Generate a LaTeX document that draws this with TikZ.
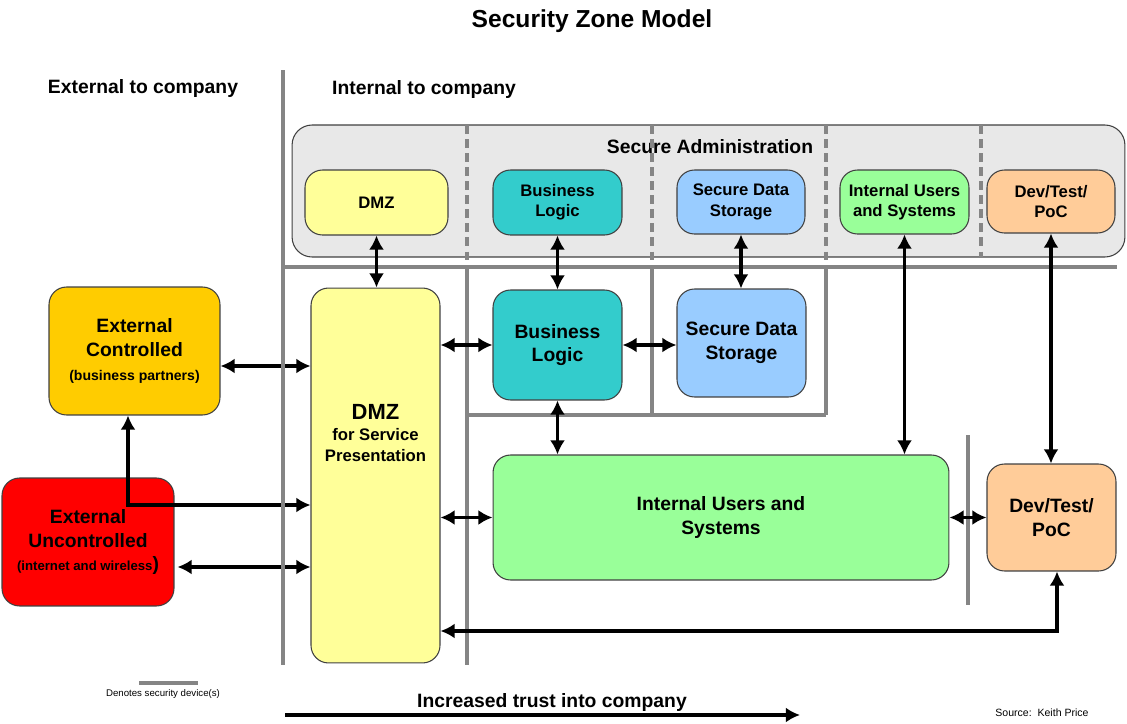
\documentclass[tikz,border=0pt]{standalone}
\usepackage{fontspec}
\setmainfont{Liberation Sans}
\usetikzlibrary{calc,arrows.meta}
\definecolor{zonegold}{HTML}{FFCC00}
\definecolor{zonered}{HTML}{FF0000}
\definecolor{zoneyellow}{HTML}{FFFF99}
\definecolor{zoneteal}{HTML}{33CCCC}
\definecolor{zoneblue}{HTML}{99CCFF}
\definecolor{zonegreen}{HTML}{99FF99}
\definecolor{zonepeach}{HTML}{FFCC99}
\definecolor{admingray}{HTML}{E8E8E8}
\definecolor{devicegray}{HTML}{858585}
\begin{document}
\begin{tikzpicture}[x=0.02cm,y=-0.02cm,
	zone/.style={draw=black!75,line width=0.6pt,rounded corners=0.35cm,align=center,inner sep=2pt},
	bigfont/.style={font=\bfseries\fontsize{11}{13.5}\selectfont},
	smallfont/.style={font=\bfseries\fontsize{9.5}{11.5}\selectfont},
	device/.style={draw=devicegray,line width=2pt},
	devicedash/.style={device,dash pattern=on 5pt off 3pt},
	link/.style={{Latex[length=8pt,width=8.5pt]}-{Latex[length=8pt,width=8.5pt]},line width=1.8pt}]
	\useasboundingbox (0,0) rectangle (1127,724);
	\node[font=\bfseries\fontsize{14}{16}\selectfont] (title) at (592,21) {Security Zone Model};
	\node[bigfont] (extlabel) at (143,88) {External to company};
	\node[bigfont] (intlabel) at (424,89) {Internal to company};
	\node[zone,fill=admingray,rounded corners=0.4cm,minimum width=16.66cm,minimum height=2.64cm] (admin) at (708.5,191) {};
	\node[bigfont] (admintitle) at (710,147) {Secure Administration};
	\draw[devicedash] (467,125) -- (467,267);
	\draw[devicedash] (652,125) -- (652,267);
	\draw[devicedash] (826,125) -- (826,267);
	\draw[devicedash] (981,125) -- (981,257);
	\draw[device] (283,267) -- (1117,267);
	\draw[device] (467,267) -- (467,665);
	\draw[device] (652,267) -- (652,415) (826,267) -- (826,415);
	\draw[device] (467,415) -- (826,415);
	\draw[device] (968,435) -- (968,605);
	\node[zone,smallfont,fill=zoneyellow,minimum width=2.86cm,minimum height=1.3cm] (sdmz) at (376.5,202.5) {DMZ};
	\node[zone,smallfont,fill=zoneteal,minimum width=2.58cm,minimum height=1.3cm] (sbl) at (557.5,202.5) {Business\\Logic};
	\node[zone,smallfont,fill=zoneblue,minimum width=2.56cm,minimum height=1.28cm] (ssds) at (741,202) {Secure Data\\Storage};
	\node[zone,smallfont,fill=zonegreen,minimum width=2.58cm,minimum height=1.28cm] (sius) at (904.5,202) {Internal Users\\and Systems};
	\node[zone,smallfont,fill=zonepeach,minimum width=2.56cm,minimum height=1.26cm] (sdev) at (1051,201.5) {Dev/Test/\\PoC};
	\node[zone,bigfont,fill=zonegold,minimum width=3.42cm,minimum height=2.56cm] (extc) at (134.5,351) {External\\Controlled\\{\fontsize{8}{10}\selectfont(business partners)}};
	\node[zone,bigfont,fill=zonered,minimum width=3.44cm,minimum height=2.56cm] (extu) at (88,542) {External\\Uncontrolled\\{\fontsize{7.5}{10}\selectfont(internet and wireless}{\fontsize{11}{13}\selectfont)}};
	\node[zone,fill=zoneyellow,minimum width=2.58cm,minimum height=7.5cm] (dmz) at (375.5,475.5) {};
	\node[align=center,font=\bfseries\fontsize{9.5}{12}\selectfont] (dmztext) at (375.5,433) {{\fontsize{12.5}{14}\selectfont DMZ}\\for Service\\Presentation};
	\node[zone,bigfont,fill=zoneteal,minimum width=2.58cm,minimum height=2.2cm] (bl) at (557.5,345) {Business\\Logic};
	\node[zone,bigfont,fill=zoneblue,minimum width=2.58cm,minimum height=2.16cm] (sds) at (741.5,343) {Secure Data\\Storage};
	\node[zone,bigfont,fill=zonegreen,minimum width=9.12cm,minimum height=2.5cm] (ius) at (721,517.5) {Internal Users and\\Systems};
	\node[zone,bigfont,fill=zonepeach,minimum width=2.58cm,minimum height=2.14cm] (dev) at (1051.5,517.5) {Dev/Test/\\PoC};
	\coordinate (ec) at ($(extc.east)+(0,15)$);
	\coordinate (eu) at ($(extu.east)+(3,25)$);
	\coordinate (eujoin) at (128,505);
	\coordinate (devcorner) at (1057,631);
	\draw[link] (sdmz.south) -- (sdmz.south |- dmz.north);
	\draw[link] (sbl.south) -- (bl.north);
	\draw[link] (ssds.south) -- (ssds.south |- sds.north);
	\draw[link] (sius.south) -- (sius.south |- ius.north);
	\draw[link] (sdev.south) -- (sdev.south |- dev.north);
	\draw[link] (ec) -- (ec -| dmz.west);
	\draw[link] (eu) -- (eu -| dmz.west);
	\draw[link] (extc.south -| eujoin) -- (eujoin) -- (eujoin -| dmz.west);
	\draw[link] (bl.west -| dmz.east) -- (bl.west);
	\draw[link] (bl.east) -- (bl.east -| sds.west);
	\draw[link] (bl.south) -- (bl.south |- ius.north);
	\draw[link] (ius.west -| dmz.east) -- (ius.west);
	\draw[link] (ius.east) -- (ius.east -| dev.west);
	\draw[link] (dev.south -| devcorner) -- (devcorner) -- (devcorner -| dmz.east);
	\draw[draw=devicegray,line width=2.8pt] (283,70) -- (283,665);
	\draw[device,line width=2.6pt] (139,683) -- (198,683);
	\node[font=\fontsize{5.5}{7}\selectfont] (devicenote) at (163,694) {Denotes security device(s)};
	\node[bigfont] (trustlabel) at (552,702) {Increased trust into company};
	\coordinate (truststart) at (285,715);
	\coordinate (trustend) at (800,715);
	\draw[-{Latex[length=8pt,width=8.5pt]},line width=1.8pt] (truststart) -- (trustend);
	\node[font=\fontsize{6}{7}\selectfont] (source) at (1042,713) {Source:~~Keith Price};
\end{tikzpicture}
\end{document}
